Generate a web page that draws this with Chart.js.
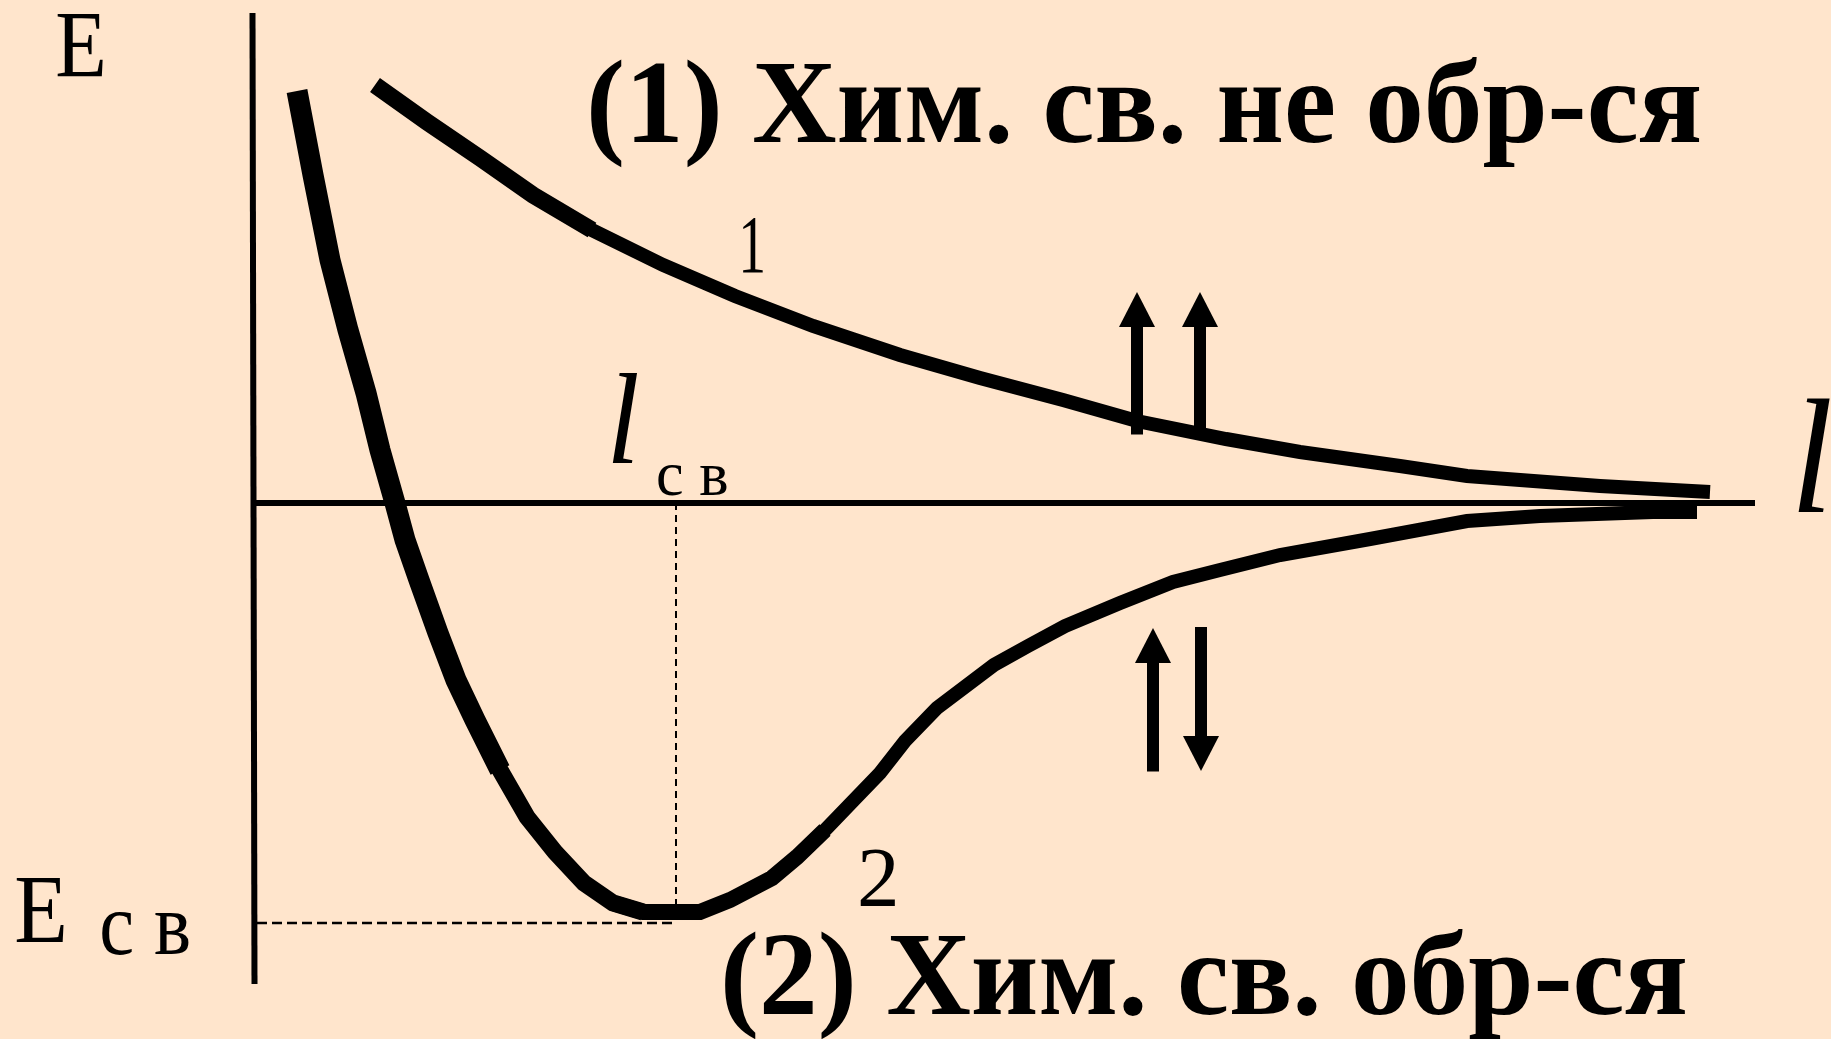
<!DOCTYPE html>
<html>
<head>
<meta charset="utf-8">
<script src="https://cdn.jsdelivr.net/npm/chart.js@4.4.1/dist/chart.umd.min.js"></script>
<style>
  html, body { margin: 0; padding: 0; background: #FFE5CC; overflow: hidden; }
  canvas { display: block; }
</style>
</head>
<body>
<canvas id="c" width="1831" height="1039"></canvas>
<script>
// ---- Data (distance l, energy E in arbitrary units) ----
// Curve 1: repulsive, chemical bond is not formed
const curve1L = [1.22, 1.74, 2.27, 2.80, 3.39, 4.10, 4.82, 5.60, 6.47, 7.27, 8.10, 8.84, 9.73, 10.47, 11.47, 12.14, 13.47, 14.57];
const curve1E = [4.18, 3.81, 3.45, 3.08, 2.73, 2.38, 2.07, 1.77, 1.48, 1.25, 1.03, 0.82, 0.64, 0.51, 0.37, 0.27, 0.17, 0.11];

// Curve 2: potential well, chemical bond is formed
const curve2L = [0.44, 0.60, 0.77, 0.95, 1.13, 1.27, 1.42, 1.52, 1.66, 1.85, 2.03, 2.22, 2.47, 2.74, 3.02, 3.31, 3.60, 3.90,
                 4.47, 4.77, 5.19, 5.44, 5.72, 6.00, 6.27, 6.52, 6.84, 7.41, 7.75, 8.12, 8.67, 9.20, 9.67, 10.27, 11.17, 12.14, 12.87, 14.00, 14.44];
const curve2E = [4.12, 3.28, 2.43, 1.73, 1.10, 0.53, 0.00, -0.37, -0.77, -1.30, -1.77, -2.17, -2.67, -3.14, -3.49, -3.80, -4.00, -4.09,
                 -4.09, -3.97, -3.75, -3.54, -3.27, -2.98, -2.70, -2.38, -2.05, -1.62, -1.43, -1.23, -1.00, -0.79, -0.67, -0.52, -0.36, -0.18, -0.13, -0.09, -0.09];

// Bond length and bond energy (minimum of curve 2)
const bondLength = [4.23];
const bondEnergy = [-4.20];

// Axes extents
const axisLRange = [0, 15.02];
const axisERange = [4.90, -4.81];

// Spin arrows: position along l, start E, tip E
const arrowL    = [8.84, 9.47, 9.00, 9.48];
const arrowFrom = [0.69, 0.75, -2.68, -1.24];
const arrowTo   = [2.11, 2.11, -1.25, -2.68];

// Texts
const labelTexts = ['E', 'E', 'с в', '(1) Хим. св. не обр-ся', '(2) Хим. св. обр-ся', '1', '2', 'l', 'с в', 'l'];

// ---- Label placement (data units) and styles ----
// without ref: ink box l..r, t..b ; with ref: ink l..r, ref glyph top t, baseline b
const labelBoxes = [
  { l: -1.96, r: -1.50, t: 4.89, b: 4.26, style: '' },
  { l: -2.37, r: -1.89, t: -3.75, b: -4.39, style: '' },
  { l: -1.51, r: -0.64, t: -4.09, b: -4.52, style: '' },
  { l: 3.38, r: 14.46, t: 4.38, b: 3.61, style: 'bold', ref: 'Х' },
  { l: 4.72, r: 14.32, t: -4.34, b: -5.11, style: 'bold', ref: 'Х' },
  { l: 4.90, r: 5.10, t: 2.85, b: 2.30, style: '' },
  { l: 6.07, r: 6.42, t: -3.46, b: -4.03, style: '' },
  { l: 3.59, r: 3.84, t: 1.30, b: 0.41, style: 'italic' },
  { l: 4.05, r: 4.74, t: 0.38, b: 0.08, style: '' },
  { l: 15.45, r: 15.77, t: 1.05, b: -0.07, style: 'italic' }
];

// line widths (px) of curve pieces: [startIndex, endIndex, width]
const curve1Pieces = [[0, 4, 17], [3, 17, 14]];
const curve2Pieces = [[0, 12, 21], [11, 17, 17], [16, 22, 16], [21, 38, 14]];

const pts = (xs, ys) => xs.map((x, i) => ({ x: x, y: ys[i] }));
const INK = '#000000';

const labelPlugin = {
  id: 'labels',
  afterDatasetsDraw(chart) {
    const ctx = chart.ctx;
    const xs = chart.scales.x, ys = chart.scales.y;
    const fam = '"Liberation Serif", "Times New Roman", serif';
    ctx.save();
    ctx.fillStyle = INK;
    ctx.textAlign = 'left';
    ctx.textBaseline = 'alphabetic';
    labelTexts.forEach((text, i) => {
      const b = labelBoxes[i];
      const L = xs.getPixelForValue(b.l), R = xs.getPixelForValue(b.r);
      const T = ys.getPixelForValue(b.t), B = ys.getPixelForValue(b.b);
      ctx.font = `${b.style} 100px ${fam}`;
      const m = ctx.measureText(b.ref || text);
      const refH = b.ref ? m.actualBoundingBoxAscent : m.actualBoundingBoxAscent + m.actualBoundingBoxDescent;
      const size = 100 * (B - T) / refH;
      ctx.font = `${b.style} ${size}px ${fam}`;
      const m2 = ctx.measureText(text);
      const inkW = m2.actualBoundingBoxLeft + m2.actualBoundingBoxRight;
      const sx = (R - L) / inkW;
      const baseY = b.ref ? B : T + m2.actualBoundingBoxAscent;
      ctx.save();
      ctx.translate(L, baseY);
      ctx.scale(sx, 1);
      ctx.fillText(text, m2.actualBoundingBoxLeft, 0);
      ctx.restore();
    });
    ctx.restore();
  }
};

const arrowPlugin = {
  id: 'arrows',
  afterDatasetsDraw(chart) {
    const ctx = chart.ctx;
    const xs = chart.scales.x, ys = chart.scales.y;
    const shaftW = 12, headW = 36, headL = 35;
    ctx.save();
    ctx.fillStyle = INK;
    arrowL.forEach((l, i) => {
      const x = xs.getPixelForValue(l);
      const y0 = ys.getPixelForValue(arrowFrom[i]);
      const y1 = ys.getPixelForValue(arrowTo[i]);
      const dir = y1 < y0 ? -1 : 1;
      const yb = y1 - dir * headL;
      ctx.fillRect(x - shaftW / 2, Math.min(y0, yb), shaftW, Math.abs(yb - y0) + 0.5);
      ctx.beginPath();
      ctx.moveTo(x, y1);
      ctx.lineTo(x - headW / 2, yb);
      ctx.lineTo(x + headW / 2, yb);
      ctx.closePath();
      ctx.fill();
    });
    ctx.restore();
  }
};

const curveDatasets = (name, xs, ys, pieces) => pieces.map(([a, b, w], k) => ({
  label: name + '-' + k,
  data: pts(xs.slice(a, b + 1), ys.slice(a, b + 1)),
  borderColor: INK,
  borderWidth: w
}));

new Chart(document.getElementById('c'), {
  type: 'line',
  data: {
    datasets: [
      ...curveDatasets('curve1', curve1L, curve1E, curve1Pieces),
      ...curveDatasets('curve2', curve2L, curve2E, curve2Pieces),
      {
        label: 'axisE',
        data: [{ x: -0.005, y: axisERange[0] }, { x: 0.015, y: axisERange[1] }],
        borderColor: INK, borderWidth: 6
      },
      {
        label: 'axisL',
        data: [{ x: axisLRange[0], y: 0 }, { x: axisLRange[1], y: 0 }],
        borderColor: INK, borderWidth: 6
      },
      {
        label: 'bondLengthGuide',
        data: [{ x: bondLength[0], y: 0 }, { x: bondLength[0], y: bondEnergy[0] }],
        borderColor: INK, borderWidth: 2, borderDash: [7, 5]
      },
      {
        label: 'bondEnergyGuide',
        data: [{ x: 0.04, y: bondEnergy[0] }, { x: bondLength[0], y: bondEnergy[0] }],
        borderColor: INK, borderWidth: 2.5, borderDash: [10, 5]
      }
    ]
  },
  options: {
    responsive: false,
    animation: false,
    devicePixelRatio: 1,
    layout: { padding: 0 },
    elements: {
      point: { radius: 0, hoverRadius: 0 },
      line: { tension: 0, fill: false, borderCapStyle: 'butt', borderJoinStyle: 'miter' }
    },
    scales: {
      x: { type: 'linear', min: -2.53, max: 15.78, display: false },
      y: { type: 'linear', min: -5.36, max: 5.03, display: false }
    },
    plugins: { legend: { display: false }, tooltip: { enabled: false } }
  },
  plugins: [arrowPlugin, labelPlugin]
});
</script>
</body>
</html>
